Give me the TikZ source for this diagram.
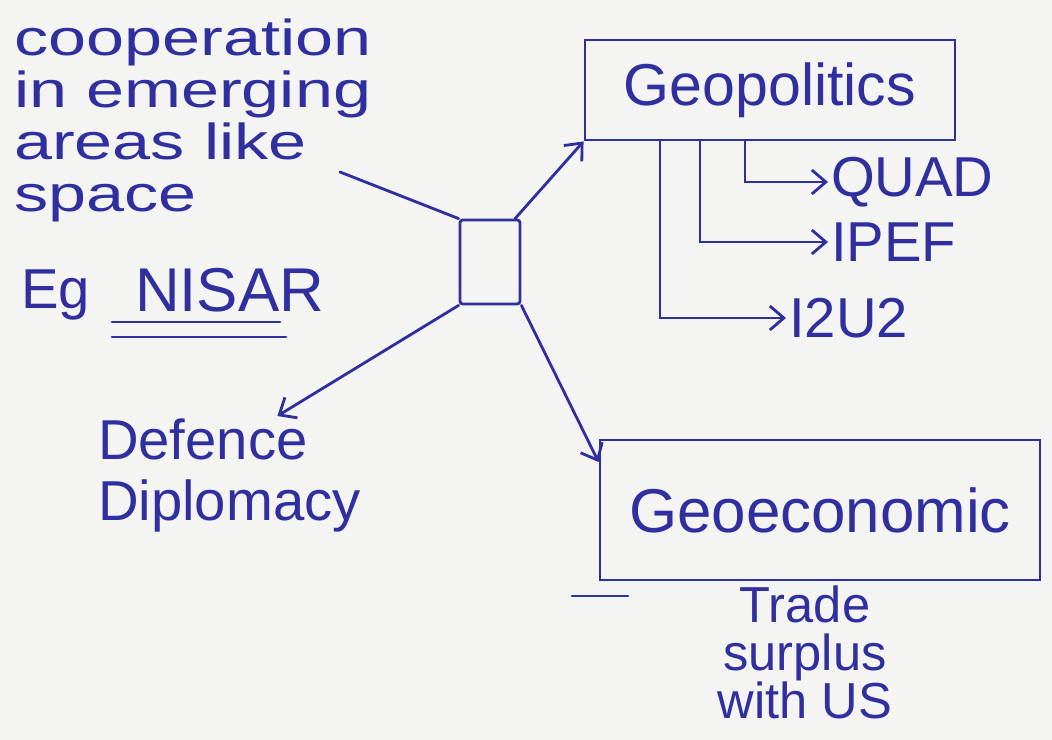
\documentclass[tikz,border=0pt]{standalone}
\usepackage{fontspec}
\setmainfont{Liberation Sans}
\usetikzlibrary{arrows.meta,positioning,calc}
\definecolor{ink}{HTML}{2F2F9F}
\definecolor{paper}{HTML}{F4F4F2}

\begin{document}
\begin{tikzpicture}[
  x=0.025cm, y=-0.025cm,
  hand/.style={text=ink, font=\fontsize{40}{44}\selectfont, inner sep=2pt},
  notebox/.style={rectangle, draw=ink, line width=2pt, hand, align=center},
  link/.style={draw=ink, line width=2pt, line cap=round},
  arr/.style={link, -{Straight Barb[length=3.5mm, width=6mm, line width=2pt]}},
]
\fill[paper] (0,0) rectangle (1052,740);
\useasboundingbox (0,0) rectangle (1052,740);

% left side notes
\node[hand, font=\fontsize{36}{37}\selectfont, anchor=north west, align=left, xscale=1.35, transform shape] (coop) at (10,16) {cooperation\\in emerging\\areas like\\space};
\coordinate (like) at (340,172);
\node[hand, anchor=west] (eg) at (18,295) {Eg};
\node[hand, font=\fontsize{44}{48}\selectfont, anchor=west] (nisar) at (132,290) {NISAR};
\draw[link] (112,322) -- (280,322);
\draw[link] (112,337) -- (286,337);

% centre
\node[notebox, minimum width=1.5cm, minimum height=2.1cm, rounded corners=2pt] (hub) at (490,262) {};

% geopolitics branch
\node[notebox, minimum width=9.25cm, minimum height=2.5cm, font=\fontsize{42}{44}\selectfont] (geopol) at (770,90) {Geopolitics};
\node[hand, anchor=west] (quad) at (828,182) {QUAD};
\node[hand, anchor=west] (ipef) at (828,242) {IPEF};
\node[hand, anchor=west] (itwou) at (786,318) {I2U2};
\draw[arr] ($(geopol.south)+(-25,0)$) |- (quad.west);
\draw[arr] ($(geopol.south)+(-70,0)$) |- (ipef.west);
\draw[arr] ($(geopol.south)+(-110,0)$) |- (itwou.west);

% defence
\node[hand, font=\fontsize{40}{43}\selectfont, anchor=north west, align=left] (defence) at (95,416) {Defence\\Diplomacy};

% geoeconomic branch
\node[notebox, minimum width=11cm, minimum height=3.5cm, font=\fontsize{44}{46}\selectfont] (geoeco) at (820,510) {Geoeconomic};
\node[hand, font=\fontsize{36}{34}\selectfont, align=center, anchor=north, inner sep=0pt] (trade) at (805,586) {Trade\\surplus\\with US};
\draw[link] (572,596) -- (628,596);

% links from centre
\draw[link] (hub.north west) -- (like);
\draw[arr] (hub.60) -- (geopol.south west);
\draw[arr] (hub.south west) -- ([xshift=1.2cm]defence.north);
\draw[arr] (hub.south east) -- ([yshift=1.2cm]geoeco.west);
\end{tikzpicture}
\end{document}
